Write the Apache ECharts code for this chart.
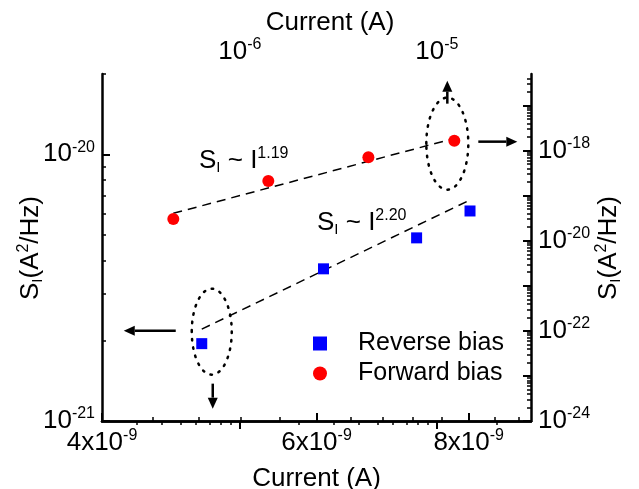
<!DOCTYPE html>
<html>
<head>
<meta charset="utf-8">
<script src="https://cdn.jsdelivr.net/npm/echarts@6/dist/echarts.min.js"></script>
<style>
  html, body { margin: 0; padding: 0; background: #fff; }
  #chart { width: 639px; height: 489px; }
</style>
</head>
<body>
<div id="chart"></div>
<script>
// reverse bias: bottom / left axes
var reverseI = [4.83e-9, 6.08e-9, 7.25e-9, 8.02e-9];
var reverseS = [1.95e-21, 3.72e-21, 4.86e-21, 6.13e-21];
// forward bias: top / right axes
var forwardI = [4.60e-7, 1.395e-6, 4.49e-6, 1.225e-5];
var forwardS = [3.03e-20, 2.11e-19, 7.10e-19, 1.66e-18];
// fitted lines (end points)
var reverseFitI = [4.83e-9, 8.02e-9];
var reverseFitS = [2.21e-21, 6.74e-21];
var forwardFitI = [4.60e-7, 1.284e-5];
var forwardFitS = [4.05e-20, 1.97e-18];

// tick values
var bottomMajor = [4e-9, 6e-9, 8e-9];
var bottomMinor = [4.4e-9, 4.8e-9, 5.2e-9, 5.6e-9, 6.4e-9, 6.8e-9, 7.2e-9, 7.6e-9, 8.4e-9, 8.8e-9];
var topMajor = [1e-6, 1e-5];
var leftMajor = [1e-21, 1e-20];
var rightLabels = [1e-24, 1e-22, 1e-20, 1e-18];

function decadeMinors(fromExp, toExp, maxVal) {
    var out = [];
    for (var e = fromExp; e <= toExp; e++) {
        for (var k = 2; k <= 9; k++) {
            var v = k * Math.pow(10, e);
            if (v <= maxVal * 1.0001) out.push(v);
        }
    }
    return out;
}
function decades(fromExp, toExp) {
    var out = [];
    for (var e = fromExp; e <= toExp; e++) out.push(Math.pow(10, e));
    return out;
}

var topMinor = decadeMinors(-7, -5, 3e-5).filter(function(v) { return v > 2.01e-7; });
var leftMinor = decadeMinors(-21, -20, 2e-20);
var rightMajor = decades(-24, -17);
var rightMinor = decadeMinors(-24, -17, 5e-17);

var FONT = "'Liberation Sans', Arial, sans-serif";
var richSup = {
    sup: { fontSize: 16, fontFamily: FONT, color: '#000', padding: [0, 0, 14, 0] },
    sub: { fontSize: 15, fontFamily: FONT, color: '#000', padding: [14, 0, 0, 0] }
};

function pow10Label(v) {
    return '10{sup|' + Math.round(Math.log10(v)) + '}';
}
function mantLabel(v) {
    return Math.round(v / 1e-9) + 'x10{sup|-9}';
}

function zip(a, b) {
    return a.map(function(v, i) { return [v, b[i]]; });
}

var lineStyle = { color: '#000', width: 2.5 };
var nameBase = { color: '#000', fontSize: 26, fontFamily: FONT, rich: richSup };

function majorAxis(pos, min, max, majors, labels, fmt) {
    var label = {
        show: true, margin: 7, formatter: fmt, customValues: labels, hideOverlap: false,
        color: '#000', fontSize: 26, fontFamily: FONT, rich: richSup
    };
    if (pos === 'top' || pos === 'bottom') {
        label.alignMinLabel = 'center';
        label.alignMaxLabel = 'center';
    }
    return {
        type: 'log',
        logBase: 10,
        position: pos,
        min: min,
        max: max,
        axisLine: { show: true, lineStyle: lineStyle },
        axisTick: { show: true, inside: true, length: 8, lineStyle: { color: '#000', width: 2 }, customValues: majors },
        axisLabel: label,
        splitLine: { show: false },
        minorTick: { show: false }
    };
}
function minorAxis(pos, min, max, minors, extra) {
    var a = {
        type: 'log',
        logBase: 10,
        position: pos,
        min: min,
        max: max,
        nameLocation: 'middle',
        nameTextStyle: nameBase,
        axisLine: { show: false },
        axisTick: { show: true, inside: true, length: 4, lineStyle: { color: '#000', width: 1.5 }, customValues: minors },
        axisLabel: { show: false },
        splitLine: { show: false }
    };
    return Object.assign(a, extra || {});
}

var chart = echarts.init(document.getElementById('chart'));

var option = {
    backgroundColor: '#fff',
    animation: false,
    grid: { left: 102, right: 108, top: 74, bottom: 68, outerBoundsMode: 'none', containLabel: false },
    legend: {
        orient: 'vertical',
        left: 313,
        top: 331,
        padding: 0,
        itemWidth: 14,
        itemHeight: 14,
        itemGap: 5,
        textStyle: { color: '#000', fontSize: 25, fontFamily: FONT, padding: [0, 0, 0, 26] },
        data: ['Reverse bias', 'Forward bias']
    },
    xAxis: [
        majorAxis('bottom', 4e-9, 9e-9, bottomMajor, bottomMajor, mantLabel),
        minorAxis('bottom', 4e-9, 9e-9, bottomMinor, { name: 'Current (A)', nameGap: 45 }),
        majorAxis('top', 2e-7, 3e-5, topMajor, topMajor, pow10Label),
        minorAxis('top', 2e-7, 3e-5, topMinor)
    ],
    yAxis: [
        majorAxis('left', 1e-21, 2e-20, leftMajor, leftMajor, pow10Label),
        minorAxis('left', 1e-21, 2e-20, leftMinor),
        majorAxis('right', 1e-24, 5e-17, rightMajor, rightLabels, pow10Label),
        minorAxis('right', 1e-24, 5e-17, rightMinor)
    ],
    series: [
        {
            name: 'Reverse bias',
            type: 'scatter',
            xAxisIndex: 0,
            yAxisIndex: 0,
            symbol: 'rect',
            symbolSize: 11,
            itemStyle: { color: '#0000ff', opacity: 1 },
            data: zip(reverseI, reverseS),
            z: 5
        },
        {
            name: 'Forward bias',
            type: 'scatter',
            xAxisIndex: 2,
            yAxisIndex: 2,
            symbol: 'circle',
            symbolSize: 12,
            itemStyle: { color: '#ff0000', opacity: 1 },
            data: zip(forwardI, forwardS),
            z: 5
        },
        {
            name: 'fit-reverse',
            type: 'line',
            xAxisIndex: 0,
            yAxisIndex: 0,
            symbol: 'none',
            lineStyle: { color: '#000', width: 1.5, type: [9, 6] },
            data: zip(reverseFitI, reverseFitS),
            z: 3
        },
        {
            name: 'fit-forward',
            type: 'line',
            xAxisIndex: 2,
            yAxisIndex: 2,
            symbol: 'none',
            lineStyle: { color: '#000', width: 1.5, type: [9, 6] },
            data: zip(forwardFitI, forwardFitS),
            z: 3
        }
    ]
};

chart.setOption(option);

// annotations: dotted ellipses and arrows anchored to the end points
function arrow(x1, y1, x2, y2) {
    var dx = x2 - x1, dy = y2 - y1;
    var len = Math.sqrt(dx * dx + dy * dy);
    var ux = dx / len, uy = dy / len;
    var hl = 11, hw = 5;
    var bx = x2 - ux * hl, by = y2 - uy * hl;
    return [
        { type: 'line', shape: { x1: x1, y1: y1, x2: bx, y2: by }, style: { stroke: '#000', lineWidth: 2.5 }, z: 10 },
        { type: 'polygon', shape: { points: [[x2, y2], [bx - uy * hw, by + ux * hw], [bx + uy * hw, by - ux * hw]] }, style: { fill: '#000' }, z: 10 }
    ];
}
function title(text, x, y, rot) {
    return {
        type: 'text', x: x, y: y, rotation: rot || 0, z: 10,
        style: { text: text, fill: '#000', font: '26px ' + FONT, rich: richSup, align: 'center', verticalAlign: 'middle' }
    };
}

var pBlue = chart.convertToPixel({ xAxisIndex: 0, yAxisIndex: 0 }, [reverseI[0], reverseS[0]]);
var pRed = chart.convertToPixel({ xAxisIndex: 2, yAxisIndex: 2 }, [forwardI[3], forwardS[3]]);
var dotted = { stroke: '#000', fill: null, lineWidth: 2.5, lineDash: [1.5, 7], lineCap: 'round' };

var graphics = [
    { type: 'ellipse', shape: { cx: pBlue[0] + 10, cy: pBlue[1] - 12, rx: 20, ry: 43 }, style: dotted, z: 10 },
    { type: 'ellipse', shape: { cx: pRed[0] - 7, cy: pRed[1] + 3, rx: 21, ry: 46 }, style: dotted, z: 10 },
    {
        type: 'text', left: 199, top: 146, z: 10,
        style: { text: 'S{sub|I} ~ I{sup|1.19}', fill: '#000', font: '26px ' + FONT, rich: richSup }
    },
    {
        type: 'text', left: 317, top: 208, z: 10,
        style: { text: 'S{sub|I} ~ I{sup|2.20}', fill: '#000', font: '26px ' + FONT, rich: richSup }
    },
    title('Current (A)', 330, 23),
    title('S{sub|I}(A{sup|2}/Hz)', 31, 248, Math.PI / 2),
    title('S{sub|I}(A{sup|2}/Hz)', 609, 248, Math.PI / 2)
];
graphics = graphics
    .concat(arrow(pBlue[0] - 26, pBlue[1] - 13, pBlue[0] - 78, pBlue[1] - 13))
    .concat(arrow(pBlue[0] + 11, pBlue[1] + 40, pBlue[0] + 11, pBlue[1] + 65))
    .concat(arrow(pRed[0] - 7, pRed[1] - 37, pRed[0] - 7, pRed[1] - 60))
    .concat(arrow(pRed[0] + 24, pRed[1] + 1, pRed[0] + 63, pRed[1] + 1));

chart.setOption({ graphic: graphics });
</script>
</body>
</html>
